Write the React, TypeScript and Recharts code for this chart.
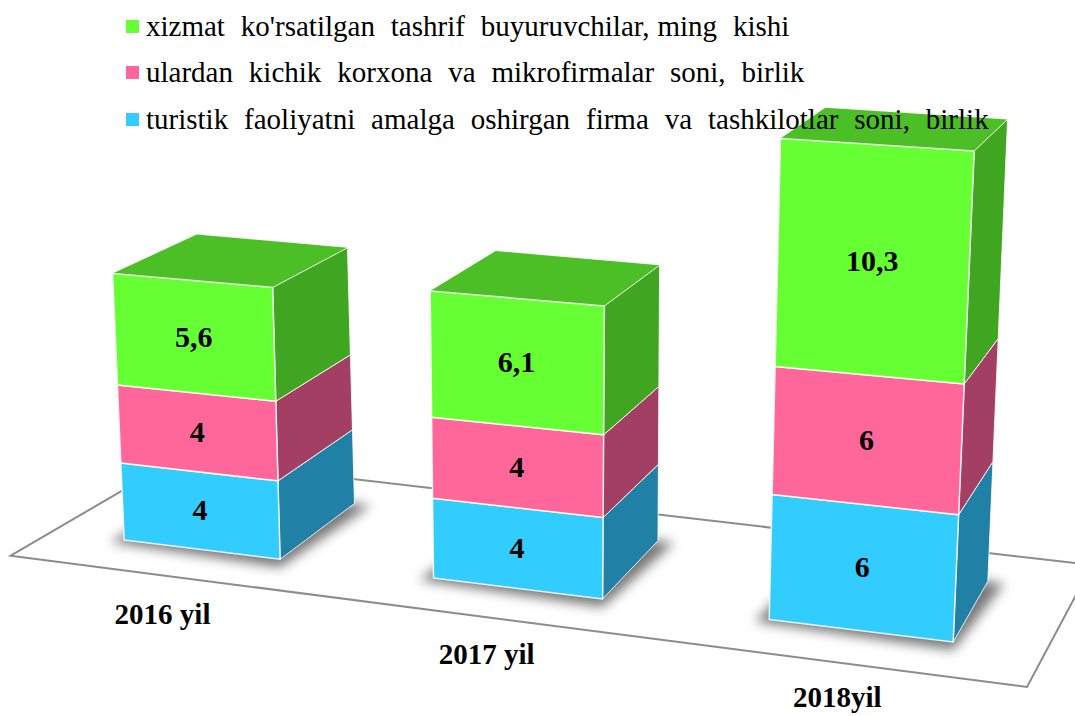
import { BarChart, Bar, XAxis, YAxis, Legend, LabelList } from 'recharts';

const years = ['2016 yil', '2017 yil', '2018yil'];
const firms = [4, 4, 6];
const smallFirms = [4, 4, 6];
const visitors = [5.6, 6.1, 10.3];

const firmsName = 'turistik  faoliyatni  amalga  oshirgan  firma  va  tashkilotlar  soni,  birlik';
const smallFirmsName = 'ulardan  kichik  korxona  va  mikrofirmalar  soni,  birlik';
const visitorsName = "xizmat  ko'rsatilgan  tashrif  buyuruvchilar, ming  kishi";

const data = years.map((year, i) => ({
  year,
  firms: firms[i],
  smallFirms: smallFirms[i],
  visitors: visitors[i],
}));

const W = 1075;
const H = 716;
const BASE = 616;
const TOP = 50;
const Y_MAX = 25;
const BAR_SIZE = 150;
const unit = (BASE - TOP) / Y_MAX;

// flat plot rectangle (logical px) -> corners of the slanted front plane on screen
const LEFT = 245.83 - BAR_SIZE / 2;
const RIGHT = 829.17 + BAR_SIZE / 2;
const UPPER = BASE - 22.3 * unit;
const quad = [
  [104.6, 95],
  [974, 151],
  [953, 642],
  [124, 540],
];

const makeProjector = () => {
  const [[x0, y0], [x1, y1], [x2, y2], [x3, y3]] = quad;
  const sx = x0 - x1 + x2 - x3;
  const sy = y0 - y1 + y2 - y3;
  const dx1 = x1 - x2;
  const dx2 = x3 - x2;
  const dy1 = y1 - y2;
  const dy2 = y3 - y2;
  const den = dx1 * dy2 - dx2 * dy1;
  const g = (sx * dy2 - dx2 * sy) / den;
  const h = (dx1 * sy - sx * dy1) / den;
  const a = x1 - x0 + g * x1;
  const b = x3 - x0 + h * x3;
  const d = y1 - y0 + g * y1;
  const e = y3 - y0 + h * y3;
  return (x: number, y: number): [number, number] => {
    const u = (x - LEFT) / (RIGHT - LEFT);
    const v = (y - UPPER) / (BASE - UPPER);
    const w = g * u + h * v + 1;
    return [(a * u + b * v + x0) / w, (d * u + e * v + y0) / w];
  };
};
const project = makeProjector();

// everything recedes to one vanishing point
const VP = [1540, -385];
const DEPTH = 0.059;
const back = ([x, y]: [number, number]): [number, number] => [
  x + DEPTH * (VP[0] - x),
  y + DEPTH * (VP[1] - y),
];

const pts = (list: [number, number][]) => list.map((p) => p.join(',')).join(' ');

const edge = { stroke: '#fff', strokeWidth: 1.5, strokeOpacity: 0.85, strokeLinejoin: 'round' as const };

const Block3D = ({ x, y, width, height, fill, sideFill, topFill, shadow }: any) => {
  const tl = project(x, y);
  const tr = project(x + width, y);
  const br = project(x + width, y + height);
  const bl = project(x, y + height);
  const btr = back(tr);
  const bbr = back(br);
  const btl = back(tl);
  const bbl = back(bl);
  return (
    <g>
      {shadow && (
        <polygon
          points={pts([
            [bl[0] - 14, bl[1] + 2],
            [br[0], br[1] + 8],
            [bbr[0] + 16, bbr[1] + 2],
            [bbl[0], bbl[1]],
          ])}
          fill="#555"
          fillOpacity={0.8}
          style={{ filter: 'blur(6px)' }}
        />
      )}
      {topFill && <polygon points={pts([tl, tr, btr, btl])} fill={topFill} />}
      <polygon points={pts([tr, br, bbr, btr])} fill={sideFill} {...edge} strokeWidth={1} />
      <polygon points={pts([tl, tr, br, bl])} fill={fill} {...edge} />
    </g>
  );
};

const ValueLabel = ({ x, y, width, height, value }: any) => {
  const [cx, cy] = project(x + width / 2, y + height / 2);
  return (
    <text
      x={cx}
      y={cy - 1}
      textAnchor="middle"
      dominantBaseline="central"
      fontFamily="'Liberation Serif'"
      fontWeight="bold"
      fontSize={30}
      fill="#000"
    >
      {String(value).replace('.', ',')}
    </text>
  );
};

const YearTick = ({ x, y, payload, index }: any) => {
  const [cx, cy] = project(x - 30, y + 66);
  return (
    <text
      x={cx - 10 + 13 * index}
      y={cy + 6 - index}
      textAnchor="middle"
      dominantBaseline="central"
      fontFamily="'Liberation Serif'"
      fontWeight="bold"
      fontSize={29}
      fill="#000"
    >
      {payload.value}
    </text>
  );
};

const LegendList = ({ payload }: any) => (
  <div style={{ fontFamily: "'Liberation Serif'", fontSize: 29, wordSpacing: 0.7, color: '#000' }}>
    {[...payload].reverse().map((item: any, i: number) => (
      <div
        key={item.value}
        style={{
          position: 'absolute',
          left: 126,
          top: 7 + i * 46.5,
          height: 38,
          display: 'flex',
          alignItems: 'center',
          whiteSpace: 'pre',
        }}
      >
        <span style={{ width: 13, height: 13, marginRight: 7, background: item.color }} />
        {item.value}
      </div>
    ))}
  </div>
);

export default function App() {
  return (
    <div style={{ position: 'absolute', left: 0, top: 0, width: W, height: H, background: '#fff' }}>
      <BarChart
        width={W}
        height={H}
        data={data}
        margin={{ top: TOP, right: 100, bottom: 70, left: 100 }}
        barSize={BAR_SIZE}
      >
        <polygon
          points="10.7,555.7 1027,687 1092,565 177,458.6"
          fill="none"
          stroke="#8c8c8c"
          strokeWidth={2}
        />
        <XAxis dataKey="year" axisLine={false} tickLine={false} height={30} interval={0} tick={<YearTick />} />
        <YAxis hide domain={[0, Y_MAX]} />
        <Legend
          layout="vertical"
          align="center"
          verticalAlign="middle"
          wrapperStyle={{ left: 0, top: 0, width: W }}
          content={<LegendList />}
        />
        <Bar
          dataKey="firms"
          name={firmsName}
          stackId="a"
          fill="#33CCFF"
          isAnimationActive={false}
          shape={(p: any) => <Block3D {...p} sideFill="#2080A5" shadow />}
        >
          <LabelList dataKey="firms" content={<ValueLabel />} />
        </Bar>
        <Bar
          dataKey="smallFirms"
          name={smallFirmsName}
          stackId="a"
          fill="#FF6699"
          isAnimationActive={false}
          shape={(p: any) => <Block3D {...p} sideFill="#A33F62" />}
        >
          <LabelList dataKey="smallFirms" content={<ValueLabel />} />
        </Bar>
        <Bar
          dataKey="visitors"
          name={visitorsName}
          stackId="a"
          fill="#66FF33"
          isAnimationActive={false}
          shape={(p: any) => <Block3D {...p} sideFill="#40A520" topFill="#4DBF26" />}
        >
          <LabelList dataKey="visitors" content={<ValueLabel />} />
        </Bar>
      </BarChart>
    </div>
  );
}
